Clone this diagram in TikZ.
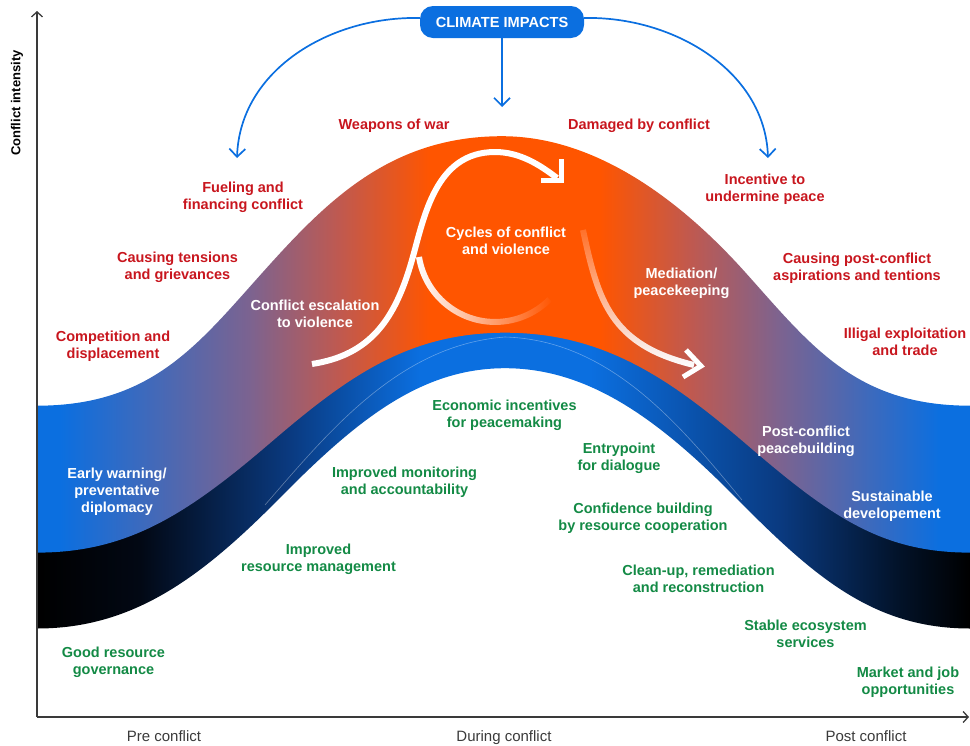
\documentclass[tikz,border=0pt]{standalone}
\usepackage{fontspec}
\setmainfont{Liberation Sans}
\usetikzlibrary{arrows.meta,fadings}

\definecolor{cblue}{HTML}{0B6FE0}
\definecolor{corange}{HTML}{FF5500}
\definecolor{cmauve}{HTML}{7C6390}
\definecolor{crust}{HTML}{C0594F}
\definecolor{cnavyA}{HTML}{020814}
\definecolor{cnavyB}{HTML}{0A3A80}
\definecolor{cnavyC}{HTML}{021228}
\definecolor{cred}{HTML}{C8161E}
\definecolor{cgreen}{HTML}{138A45}
\definecolor{caxis}{HTML}{3A3A3A}

% warm band: blue at the edges, orange around the peak
\pgfdeclarehorizontalshading{bandwarm}{100bp}{%
  color(0bp)=(cblue); color(26.23bp)=(cblue); color(36.41bp)=(cmauve);
  color(41.24bp)=(crust); color(46.06bp)=(corange); color(55.17bp)=(corange);
  color(59.99bp)=(crust); color(64.82bp)=(cmauve); color(73.39bp)=(cblue);
  color(100bp)=(cblue)}
% deep band: black at the edges, blue around the peak
\pgfdeclarehorizontalshading{banddeep}{100bp}{%
  color(0bp)=(black); color(25bp)=(black); color(30.52bp)=(cnavyA);
  color(38.56bp)=(cnavyB); color(45.53bp)=(cblue); color(54.64bp)=(cblue);
  color(64.82bp)=(cnavyB); color(71.25bp)=(cnavyC); color(75bp)=(black);
  color(100bp)=(black)}

\tikzfading[name=ringfade, left color=transparent!0, right color=transparent!100]
\tikzfading[name=medfade, top color=transparent!85, bottom color=transparent!0]

\begin{document}
\begin{tikzpicture}[x=1pt, y=-1pt,
  lbl/.style={align=center, inner sep=0pt, font=\bfseries\fontsize{14.5}{17}\selectfont},
  redlbl/.style={lbl, text=cred},
  whitelbl/.style={lbl, text=white},
  greenlbl/.style={lbl, text=cgreen},
  phase/.style={inner sep=0pt, anchor=base, text=caxis, font=\fontsize{15}{18}\selectfont},
  axisline/.style={draw=caxis, line width=1.3pt, -{Straight Barb[length=5pt,width=11pt]}},
  impact/.style={draw=cblue, line width=1.7pt, -{Straight Barb[length=8pt,width=16pt]}},
  climate/.style={fill=cblue, text=white, rounded corners=13pt, minimum width=164pt,
    minimum height=32pt, inner sep=0pt, font=\bfseries\fontsize{14.6}{16}\selectfont},
  flow/.style={draw=white, line width=6pt},
  flowhead/.style={draw=white, line width=5pt, line join=miter},
]
\useasboundingbox (0,0) rectangle (970,745);

% ---- deep band (drawn first, its top hidden under the warm band)
\shade[shading=banddeep]
  (37,549.6) .. controls (126,549.6) and (185,513.1) .. (270,440.1)
  .. controls (347,374) and (408,329.7) .. (505,329.7)
  .. controls (602,329.7) and (668,374) .. (745,440.1)
  .. controls (830,513.1) and (881,549.6) .. (970,549.6)
  -- (970,628.5)
  .. controls (874,628.5) and (815,577.9) .. (736,497.8)
  .. controls (659,419.8) and (589,368.2) .. (505,368.2)
  .. controls (421,368.2) and (357,419.8) .. (280,497.8)
  .. controls (201,577.9) and (133,628.5) .. (37,628.5) -- cycle;

% ---- warm band
\shade[shading=bandwarm]
  (37,405.7) .. controls (152,405.7) and (198,344.4) .. (263,272)
  .. controls (326,201.7) and (390,136.2) .. (502,136.2)
  .. controls (603,136.2) and (690,210.7) .. (745,272)
  .. controls (810,344.4) and (855,405.7) .. (970,405.7)
  -- (970,552.6)
  .. controls (881,552.6) and (830,516.1) .. (745,443.1)
  .. controls (668,377) and (602,332.7) .. (505,332.7)
  .. controls (408,332.7) and (347,377) .. (270,443.1)
  .. controls (185,516.1) and (126,552.6) .. (37,552.6) -- cycle;

% faint seam inside the deep band
\draw[white, opacity=0.35, line width=0.6pt]
  (265,505) .. controls (330,430) and (400,345) .. (505,337)
  .. controls (610,340) and (680,425) .. (742,500);

% ---- conflict escalation loop
\coordinate (esc0) at (312,364);
\coordinate (esc1) at (557,178);
\draw[flow] (esc0) .. controls (370,355) and (395,320) .. (412,260)
  .. controls (424,218) and (435,152) .. (495,152)
  .. controls (520,152) and (540,165) .. (esc1);
\draw[flowhead] (541,180.5) -- (561.5,180.5) -- (561.5,159);

% fading ring of the cycle
\coordinate (ring0) at (419,257);
\draw[flow, path fading=ringfade] (ring0) arc[start angle=171, end angle=45, radius=77];

% ---- mediation arrow
\coordinate (med0) at (583,230);
\coordinate (med1) at (694,365);
\draw[flow, path fading=medfade] (med0) .. controls (598,300) and (610,345) .. (med1);
\draw[flowhead] (686,350) -- (701,366) -- (683,377);

% ---- axes
\coordinate (orig) at (37,717);
\coordinate (ytop) at (37,11);
\coordinate (xend) at (969,717);
\draw[axisline] (orig) -- (ytop);
\draw[axisline] (orig) -- (xend);
\node[rotate=90, inner sep=0pt, font=\bfseries\fontsize{13}{16}\selectfont] (yl) at (17,103) {Conflict intensity};
\node[phase] (p1) at (164,741) {Pre conflict};
\node[phase] (p2) at (504,741) {During conflict};
\node[phase] (p3) at (866,741) {Post conflict};

% ---- climate impacts
\node[climate] (ci) at (502,22) {CLIMATE IMPACTS};
\coordinate (cl) at (237,158);
\coordinate (cr) at (768,158);
\coordinate (cd) at (502,107);
\draw[impact] ([yshift=4pt]ci.west) .. controls (330,16) and (240,70) .. (cl);
\draw[impact] ([yshift=4pt]ci.east) .. controls (672,16) and (765,70) .. (cr);
\draw[impact] (ci.south) -- (cd);

% ---- drivers (red)
\node[redlbl] (w1) at (394,126) {Weapons of war};
\node[redlbl] (w2) at (639,126) {Damaged by conflict};
\node[redlbl] (r1) at (243,197.5) {Fueling and\\financing conflict};
\node[redlbl] (r2) at (177.5,267) {Causing tensions\\and grievances};
\node[redlbl] (r3) at (113,346) {Competition and\\displacement};
\node[redlbl] (r4) at (765,189) {Incentive to\\undermine peace};
\node[redlbl] (r5) at (857,268.5) {Causing post-conflict\\aspirations and tentions};
\node[redlbl] (r6) at (905,342) {Illigal exploitation\\and trade};

% ---- phases (white)
\node[whitelbl] (c1) at (315,314) {Conflict escalation\\to violence};
\node[whitelbl] (c2) at (506,241) {Cycles of conflict\\and violence};
\node[whitelbl] (c3) at (681.5,283.5) {Mediation/\\peacekeeping};
\node[whitelbl] (b1) at (117,492) {Early warning/\\preventative\\diplomacy};
\node[whitelbl] (b2) at (806,441) {Post-conflict\\peacebuilding};
\node[whitelbl] (b3) at (892,506) {Sustainable\\developement};

% ---- opportunities (green)
\node[greenlbl] (g1) at (504.5,415) {Economic incentives\\for peacemaking};
\node[greenlbl] (g2) at (619,458) {Entrypoint\\for dialogue};
\node[greenlbl] (g3) at (404.5,482) {Improved monitoring\\and accountability};
\node[greenlbl] (g4) at (643,518) {Confidence building\\by resource cooperation};
\node[greenlbl] (g5) at (318.5,559) {Improved\\resource management};
\node[greenlbl] (g6) at (698.5,579) {Clean-up, remediation\\and reconstruction};
\node[greenlbl] (g7) at (805.5,634) {Stable ecosystem\\services};
\node[greenlbl] (g8) at (113.5,662) {Good resource\\governance};
\node[greenlbl] (g9) at (908,682) {Market and job\\opportunities};
\end{tikzpicture}
\end{document}
